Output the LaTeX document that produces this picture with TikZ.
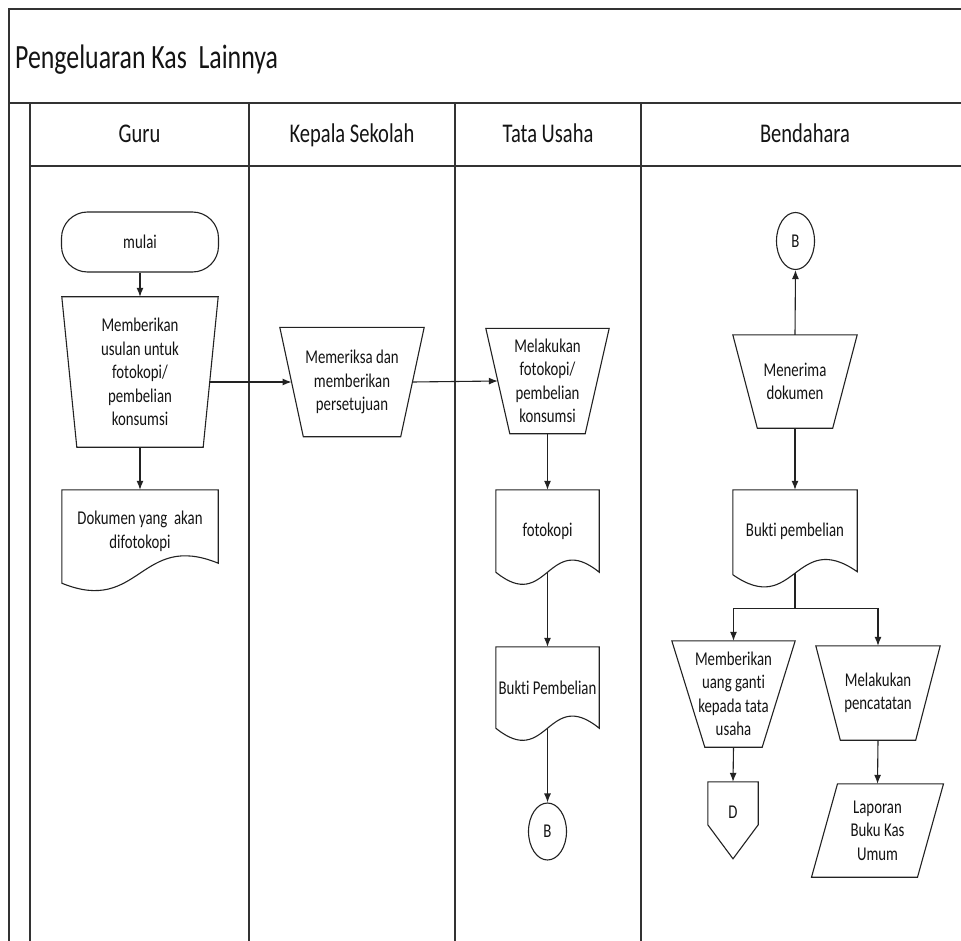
\documentclass[tikz,border=0pt]{standalone}
\usepackage{fontspec}
\setmainfont{Carlito}[FakeStretch=0.76,RawFeature={-liga;-clig;-calt;-dlig}]
\usetikzlibrary{arrows.meta,calc,shapes.geometric}
\definecolor{ln}{HTML}{222222}
\definecolor{frame}{HTML}{333333}
\definecolor{txt}{HTML}{141414}
\newcommand\trapout[2]{\draw[shp] (#1.north west) -- (#1.north east) -- ($(#1.south east)+(-#2,0)$) -- ($(#1.south west)+(#2,0)$) -- cycle;}
\newcommand\docout[3]{\draw[shp] (#1.north west) -- (#1.north east) -- ($(#1.south east)+(0,-#3)$) .. controls ($(#1.south)+(0,-#2)$) and ($(#1.south)+(0,#2)$) .. ($(#1.south west)+(0,#3)$) -- cycle;}
\tikzset{
  every node/.style={inner sep=0pt, text=txt},
  lbl/.style={font=\fontsize{19.5}{23.5}\selectfont, align=center},
  box/.style 2 args={lbl, minimum width=#1pt, minimum height=#2pt},
  shp/.style={draw=ln, line width=1.1pt},
  arr/.style={draw=ln, line width=1.1pt, -{Latex[length=9pt,width=7pt]}},
  lane/.style={draw=frame, line width=1.5pt},
  hdr/.style={font=\fontsize{27}{32}\selectfont, anchor=base},
  conn/.style={lbl, ellipse, shp, minimum width=38pt, minimum height=57pt},
}
\begin{document}
\begin{tikzpicture}[x=1pt,y=-1pt]
\fill[white] (0,0) rectangle (961,941);
\useasboundingbox (0,0) rectangle (961,941);
% frame
\draw[lane] (9,942) -- (9,9) -- (962,9);
\draw[lane] (9,103) -- (962,103);
\draw[lane] (30,103) -- (30,942);
\draw[lane] (30,166) -- (962,166);
\foreach \xx in {249,455,641} \draw[lane] (\xx,103) -- (\xx,942);
% titles
\node[font=\fontsize{34}{40}\selectfont, anchor=base west] (title) at (15,69) {Pengeluaran Kas\ \ Lainnya};
\node[hdr] (hguru) at (139.5,143) {Guru};
\node[hdr] (hkep) at (352,143) {Kepala Sekolah};
\node[hdr] (htu) at (548,143) {Tata Usaha};
\node[hdr] (hbend) at (805,143) {Bendahara};
% Guru
\node[box={157}{60}, shp, rounded corners=26pt] (mulai) at (140,242) {mulai};
\node[box={156}{150}] (u1) at (140,372) {Memberikan\\usulan untuk\\fotokopi/\\pembelian\\konsumsi};
\trapout{u1}{15}
\node[box={156}{83}] (doc1) at (140,531.5) {Dokumen yang\ \ akan\\difotokopi};
\docout{doc1}{42}{10}
% Kepala Sekolah
\node[box={144}{109}] (k1) at (352,382) {Memeriksa dan\\memberikan\\persetujuan};
\trapout{k1}{23.5}
% Tata Usaha
\node[box={123}{105}] (t1) at (547.5,381) {Melakukan\\fotokopi/\\pembelian\\konsumsi};
\trapout{t1}{24}
\node[box={103}{82}] (t2) at (547.5,531) {fotokopi};
\docout{t2}{42}{0}
\node[box={103}{81}] (t3) at (547.5,687.5) {Bukti Pembelian};
\docout{t3}{42}{0}
\node[conn] (bT) at (547.5,831.5) {B};
% Bendahara
\node[conn] (bB) at (795.5,241) {B};
\node[box={124}{93}] (e1) at (795,381.5) {Menerima\\dokumen};
\trapout{e1}{24.5}
\node[box={124}{83}] (e2) at (795,531.5) {Bukti pembelian};
\docout{e2}{45}{1.5}
\node[box={123}{106}] (e3) at (733.5,694) {Memberikan\\uang ganti\\kepada tata\\usaha};
\trapout{e3}{33}
\node[box={124}{94}] (e4) at (878,693) {Melakukan\\pencatatan};
\trapout{e4}{24.5}
\node[box={50}{60}] (d) at (733,812) {D};
\draw[shp] (d.north west) -- (d.north east) -- ($(d.north east)+(0,43)$) -- ($(d.north)+(0,77)$) -- ($(d.north west)+(0,43)$) -- cycle;
\node[box={80}{93}] (lap) at (877.5,830.5) {Laporan\\Buku Kas\\Umum};
\draw[shp] ($(lap.north)+(-40,0)$) -- ($(lap.north)+(66,0)$) -- ($(lap.south)+(40,0)$) -- ($(lap.south)+(-66,0)$) -- cycle;
% connectors
\draw[arr] (mulai.south) -- (u1.north);
\draw[arr] (u1.south) -- (doc1.north);
\draw[arr] ($(u1.east)+(-8.5,10)$) -- ($(k1.west)+(11.75,0)$);
\draw[arr] ($(k1.east)+(-11.75,0)$) -- ($(t1.west)+(12,0)$);
\draw[arr] (t1.south) -- (t2.north);
\draw[arr] (t2.south) -- (t3.north);
\draw[arr] (t3.south) -- (bT.north);
\draw[arr] (e1.north) -- (bB.south);
\draw[arr] (e1.south) -- (e2.north);
\draw[shp] (e2.south) -- ($(e2.south)+(0,35)$) coordinate (split);
\draw[arr] (split) -| (e3.north);
\draw[arr] (split) -| (e4.north);
\draw[arr] (e3.south) -- (d.north);
\draw[arr] (e4.south) -- (lap.north);
\end{tikzpicture}
\end{document}
